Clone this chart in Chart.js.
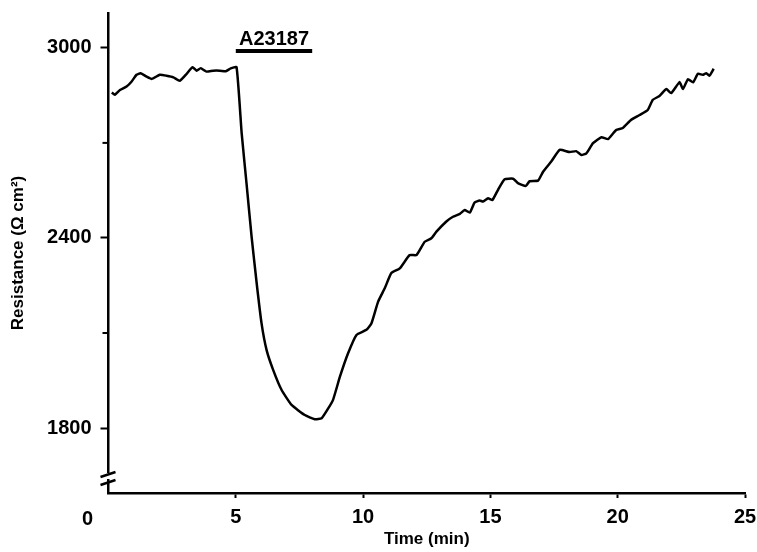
<!DOCTYPE html>
<html>
<head>
<meta charset="utf-8">
<script src="https://cdn.jsdelivr.net/npm/chart.js@4"></script>
<style>
  body { margin: 0; background: #fff; }
  #wrap { width: 757px; height: 552px; }
</style>
</head>
<body>
<div id="wrap"><canvas id="chart-area" width="757" height="552"></canvas></div>
<script>
// time (min) and resistance (ohm cm2)
var timeMin = [
  0.13, 0.25, 0.45, 0.71, 0.91, 1.1, 1.26, 1.5, 1.7, 2.02, 2.28, 2.55, 2.8, 3.07, 3.3,
  3.46, 3.62, 3.85, 4.11, 4.38, 4.61, 4.8, 5.03, 5.23, 5.42, 5.62, 5.82, 6.01, 6.21,
  6.47, 6.8, 7.19, 7.71, 8.1, 8.37, 8.63, 8.82, 9.09, 9.41, 9.74, 10.13, 10.33, 10.59,
  10.85, 11.11, 11.44, 11.83, 12.1, 12.42, 12.68, 12.88, 13.27, 13.53, 13.8, 13.99,
  14.19, 14.38, 14.58, 14.71, 14.91, 15.08, 15.3, 15.56, 15.89, 16.08, 16.39, 16.54,
  16.87, 17.07, 17.39, 17.72, 18.11, 18.37, 18.57, 18.77, 19.03, 19.36, 19.62, 19.94,
  20.2, 20.53, 20.86, 21.18, 21.38, 21.64, 21.91, 22.1, 22.43, 22.56, 22.76, 22.96,
  23.15, 23.34, 23.48, 23.6, 23.77
];
var resistance = [
  2859, 2852, 2867, 2878, 2894, 2915, 2920, 2909, 2902, 2915, 2912, 2907, 2896, 2918, 2939,
  2928, 2936, 2925, 2928, 2928, 2926, 2935, 2939, 2731, 2573, 2404, 2257, 2131, 2046,
  1983, 1920, 1873, 1841, 1828, 1831, 1862, 1889, 1962, 2036, 2094, 2110, 2131, 2199,
  2241, 2289, 2304, 2346, 2346, 2388, 2399, 2420, 2452, 2467, 2476, 2488,
  2480, 2512, 2518, 2515, 2525, 2520, 2552, 2585, 2587, 2573, 2564, 2579,
  2581, 2609, 2641, 2678, 2671, 2674, 2662, 2667, 2699, 2718, 2712, 2741,
  2747, 2773, 2788, 2804, 2836, 2848, 2870, 2857, 2892, 2870, 2901, 2891,
  2918, 2915, 2920, 2912, 2934
];

// A23187 application bar
var drugLabel = 'A23187';
var drugTimes = [5, 8];
var drugLevel = [2990, 2990];

var xTicks = [0, 5, 10, 15, 20, 25];
var yTicks = [1800, 2100, 2400, 2700, 3000];
var yLabelled = [1800, 2400, 3000];

var FONT = "'Liberation Sans', Arial, sans-serif";

var points = timeMin.map(function(t, i) { return { x: t, y: resistance[i] }; });
var drugBar = drugTimes.map(function(t, i) { return { x: t, y: drugLevel[i] }; });

var extras = {
  id: 'extras',
  afterDraw: function(chart) {
    var ctx = chart.ctx;
    var xs = chart.scales.x, ys = chart.scales.y;
    var left = chart.chartArea.left, bottom = chart.chartArea.bottom;
    ctx.save();
    ctx.strokeStyle = '#000';
    ctx.fillStyle = '#000';
    // short minor ticks on the y axis
    ctx.lineWidth = 2;
    yTicks.forEach(function(v) {
      if (yLabelled.indexOf(v) < 0) {
        var py = ys.getPixelForValue(v);
        ctx.beginPath();
        ctx.moveTo(left - 6, py);
        ctx.lineTo(left, py);
        ctx.stroke();
      }
    });
    // axis break marks
    ctx.fillStyle = '#fff';
    ctx.fillRect(left - 2, bottom - 20, 4, 6);
    ctx.fillStyle = '#000';
    ctx.lineWidth = 2.5;
    [bottom - 19, bottom - 11].forEach(function(y0) {
      ctx.beginPath();
      ctx.moveTo(left - 8, y0 + 3);
      ctx.lineTo(left + 7, y0 - 2);
      ctx.stroke();
    });
    // origin label, set off to the left as in the figure
    ctx.font = 'bold 20px ' + FONT;
    ctx.textAlign = 'center';
    ctx.textBaseline = 'alphabetic';
    ctx.fillText('0', left - 21, bottom + 32);
    // drug label over the bar
    ctx.fillText(drugLabel, xs.getPixelForValue((drugTimes[0] + drugTimes[1]) / 2),
      ys.getPixelForValue(drugLevel[0]) - 6.5);
    ctx.restore();
  }
};

var config = {
  type: 'line',
  data: {
    datasets: [{
      data: points,
      borderColor: '#000',
      borderWidth: 2.5,
      pointRadius: 0,
      tension: 0.15,
      fill: false
    }, {
      data: drugBar,
      borderColor: '#000',
      borderWidth: 4,
      borderCapStyle: 'butt',
      pointRadius: 0,
      fill: false
    }]
  },
  options: {
    responsive: false,
    animation: false,
    layout: { padding: { left: 0, top: 13, right: 12, bottom: 0 } },
    plugins: {
      legend: { display: false },
      tooltip: { enabled: false },
      title: { display: false }
    },
    scales: {
      x: {
        type: 'linear',
        min: 0,
        max: 25,
        afterBuildTicks: function(scale) {
          scale.ticks = xTicks.map(function(v) { return { value: v }; });
        },
        afterFit: function(scale) {
          scale.height = 59;
          scale.paddingLeft = 0;
          scale.paddingRight = 0;
        },
        ticks: {
          color: '#000',
          padding: 7,
          maxRotation: 0,
          font: { family: FONT, size: 20, weight: 'bold' },
          callback: function(v) { return v === 0 ? '' : String(v); }
        },
        grid: {
          drawOnChartArea: false,
          tickLength: 5,
          tickWidth: 2,
          tickColor: function(c) { return c.tick && c.tick.value === 0 ? 'rgba(0,0,0,0)' : '#000'; }
        },
        border: { display: true, color: '#000', width: 2.5 },
        title: {
          display: true,
          text: 'Time (min)',
          color: '#000',
          padding: { top: 0, bottom: 2 },
          font: { family: FONT, size: 17, weight: 'bold' }
        }
      },
      y: {
        type: 'linear',
        min: 1595,
        max: 3110,
        afterBuildTicks: function(scale) {
          scale.ticks = yTicks.map(function(v) { return { value: v }; });
        },
        afterFit: function(scale) {
          scale.width = 108.5;
          scale.paddingTop = 0;
          scale.paddingBottom = 0;
        },
        ticks: {
          color: '#000',
          padding: 9,
          font: { family: FONT, size: 20, weight: 'bold' },
          callback: function(v) { return yLabelled.indexOf(v) >= 0 ? String(v) : ''; }
        },
        grid: {
          drawOnChartArea: false,
          tickLength: 8,
          tickWidth: 2,
          tickColor: function(c) {
            return c.tick && yLabelled.indexOf(c.tick.value) >= 0 ? '#000' : 'rgba(0,0,0,0)';
          }
        },
        border: { display: true, color: '#000', width: 2.5 },
        title: {
          display: true,
          text: 'Resistance (Ω cm²)',
          color: '#000',
          padding: { top: 8, bottom: 0 },
          font: { family: FONT, size: 17, weight: 'bold' }
        }
      }
    }
  },
  plugins: [extras]
};

window.onload = function() {
  var ctx = document.getElementById('chart-area').getContext('2d');
  window.myLine = new Chart(ctx, config);
};
</script>
</body>
</html>
